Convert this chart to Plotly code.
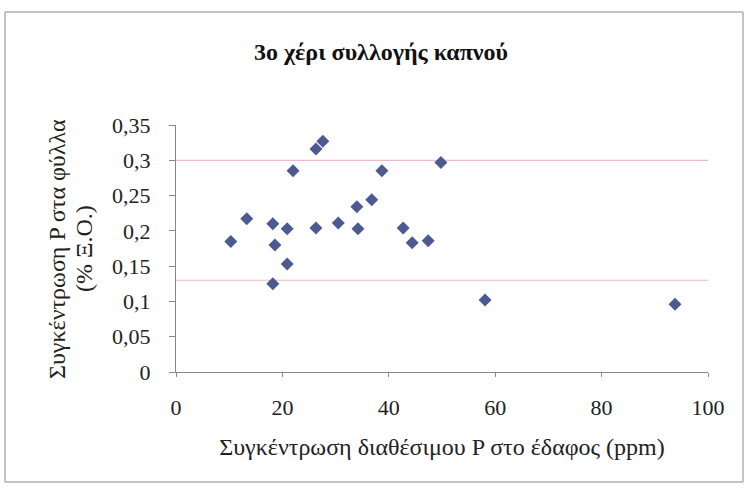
import plotly.graph_objects as go

# Data
soil_p = [10.3, 13.3, 18.2, 18.6, 18.2, 20.9, 20.9, 22.0, 26.3, 26.3, 27.6,
          30.5, 34.0, 34.2, 36.8, 38.7, 42.7, 44.4, 47.4, 49.8, 58.1, 93.8]
leaf_p = [0.185, 0.217, 0.210, 0.180, 0.125, 0.203, 0.153, 0.285, 0.204, 0.316, 0.327,
          0.211, 0.234, 0.203, 0.244, 0.285, 0.204, 0.183, 0.186, 0.297, 0.102, 0.096]
ref_levels = [0.30, 0.13]

x_tickvals = [0, 20, 40, 60, 80, 100]
x_ticktext = ["0", "20", "40", "60", "80", "100"]
y_tickvals = [0, 0.05, 0.10, 0.15, 0.20, 0.25, 0.30, 0.35]
y_ticktext = ["0", "0,05", "0,1", "0,15", "0,2", "0,25", "0,3", "0,35"]

title_text = "3ο χέρι συλλογής καπνού"
x_title = "Συγκέντρωση διαθέσιμου P στο έδαφος (ppm)"
y_title_lines = ["Συγκέντρωση P στα φύλλα", "(% Ξ.Ο.)"]

FONT = "Liberation Serif, Times New Roman, serif"
W, H = 747, 497
L, R, T, B = 176, 39, 125, 125
pw, ph = W - L - R, H - T - B

fig = go.Figure()
fig.add_trace(go.Scatter(
    x=soil_p, y=leaf_p, mode="markers",
    marker=dict(symbol="diamond", size=10, color="#4D5A92",
                line=dict(width=0)),
    showlegend=False, hoverinfo="x+y"))

for lv in ref_levels:
    fig.add_shape(type="line", xref="paper", yref="y", x0=0, x1=1, y0=lv, y1=lv,
                  line=dict(color="#E9BCC6", width=1.2), layer="below")

def px2paper_x(px):
    return (px - L) / pw
def py2paper_y(py):
    return (H - B - py) / ph

# outer frame
fig.add_shape(type="rect", xref="paper", yref="paper",
              x0=px2paper_x(5), x1=px2paper_x(743),
              y0=py2paper_y(482), y1=py2paper_y(12),
              line=dict(color="#8A8A8A", width=1), fillcolor="rgba(0,0,0,0)")

# y-axis title as two rotated annotation lines
for txt, cx in zip(y_title_lines, [57, 84]):
    fig.add_annotation(text=txt, xref="paper", yref="paper",
                       x=px2paper_x(cx), y=py2paper_y(249), xanchor="center", yanchor="middle",
                       textangle=-90, showarrow=False,
                       font=dict(family=FONT, size=24, color="#222222"))

fig.update_layout(
    width=W, height=H,
    margin=dict(l=L, r=R, t=T, b=B, autoexpand=False),
    paper_bgcolor="white", plot_bgcolor="white",
    font=dict(family=FONT, size=22, color="#222222"),
    title=dict(text="<b>" + title_text + "</b>", x=381 / W, xanchor="center",
               y=1 - 52 / H, yanchor="middle",
               font=dict(family=FONT, size=24, color="#111111")),
    xaxis=dict(range=[0, 100], tickvals=x_tickvals, ticktext=x_ticktext,
               showgrid=False, zeroline=False, showline=True, automargin=False,
               linecolor="#888888", linewidth=1, ticks="outside", ticklen=4,
               tickcolor="#888888", ticklabelstandoff=12,
               title=dict(text=x_title, standoff=18,
                          font=dict(family=FONT, size=24))),
    yaxis=dict(range=[0, 0.35], tickvals=y_tickvals, ticktext=y_ticktext,
               showgrid=False, zeroline=False, showline=True, automargin=False,
               linecolor="#888888", linewidth=1, ticks="outside", ticklen=6,
               tickcolor="#888888", ticklabelstandoff=14),
)

fig.write_html("out.html", config={"displayModeBar": False},
               post_script="document.body.style.margin='0';document.body.style.padding='0';")
